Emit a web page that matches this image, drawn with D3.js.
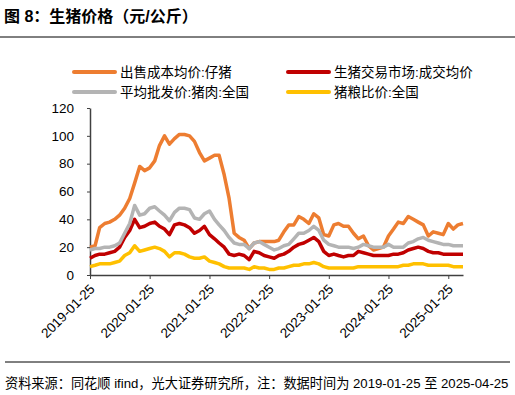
<!DOCTYPE html>
<html>
<head>
<meta charset="utf-8">
<script src="https://cdn.jsdelivr.net/npm/d3@7"></script>
<style>
  body { margin: 0; background: #fff; }
  svg { display: block; font-family: "Liberation Sans", Arial, "Noto Sans CJK SC", sans-serif; }
</style>
</head>
<body>
<div id="chart"></div>
<script>
// monthly readings, 2019-01-25 .. 2025-04-25
const startDate = "2019-01-25";
const pigletCost = [20,21,34,37,38,40,43,48,55,66,78,75,77,82,93,100,94,98,101,101,100,96,88,82,84,86,86,72,55,30,
  27,25,19,23,24,24,24,24,25,31,36,36,42,40,37,44,41,29,28,36,37,35,35,30,26,28,21,18,19,20,
  28,33,38,37,42,40,38,36,28,31,30,29,37,33,36,37];
const hogMarket = [12,14,15,15,16,17,20,27,32,40,34,35,37,38,35,33,29,36,37,36,34,30,32,35,29,26,23,20,15,14,
  15,14,11,17,16,14,13,12,14,15,17,20,22,23,25,27,24,17,14,15,14,13,14,14,17,16,15,14,14,14,
  14,15,15,16,18,19,20,19,17,16,16,15,15,15,15,15];
const porkWholesale = [18,19,19,20,20,21,23,30,37,50,43,44,48,49,46,43,39,45,48,48,47,41,40,44,46,40,36,32,27,23,
  22,22,19,23,24,22,20,18,19,21,22,26,30,30,32,35,32,25,22,21,20,20,20,19,20,22,21,20,20,20,
  22,20,20,20,23,24,26,27,25,24,23,22,22,21,21,21];
const hogGrainRatio = [6,7,8,8,8,9,10,14,16,21,17,18,19,20,19,17,13,16,16,15,13,12,12,13,10,9,8,6,5,5,
  5,5,4,6,5,5,4,4,5,5,6,7,7,8,8,9,8,6,5,5,5,5,5,5,6,6,6,6,6,6,
  6,6,6,7,7,8,8,8,7,7,7,7,7,6,6,6];

const seriesNames = ["出售成本均价:仔猪", "生猪交易市场:成交均价", "平均批发价:猪肉:全国", "猪粮比价:全国"];
const seriesColors = ["#ED7D31", "#C00000", "#B4B4B4", "#FFC000"];
const yTicks = [0, 20, 40, 60, 80, 100, 120];
const xTickLabels = ["2019-01-25","2020-01-25","2021-01-25","2022-01-25","2023-01-25","2024-01-25","2025-01-25"];

const W = 515, H = 395;
const parse = d3.timeParse("%Y-%m-%d");
const t0 = parse(startDate);
const dates = pigletCost.map((_, i) => d3.timeMonth.offset(t0, i));

const svg = d3.select("#chart").append("svg").attr("width", W).attr("height", H);

// title + rules
svg.append("text").attr("x", 4).attr("y", 22)
  .attr("font-size", 16).attr("font-weight", "bold").attr("fill", "#000")
  .text("图 8：生猪价格（元/公斤）");
svg.append("line").attr("x1", 0).attr("x2", W).attr("y1", 37).attr("y2", 37)
  .attr("stroke", "#000").attr("stroke-width", 1);
svg.append("line").attr("x1", 5).attr("x2", 510).attr("y1", 362).attr("y2", 362)
  .attr("stroke", "#000").attr("stroke-width", 1);
svg.append("text").attr("x", 5).attr("y", 388)
  .attr("font-size", 13.2).attr("fill", "#000")
  .text("资料来源：同花顺 ifind，光大证券研究所，注：数据时间为 2019-01-25 至 2025-04-25");

const x = d3.scaleTime().domain([t0, dates[dates.length - 1]]).range([90, 463]);
const y = d3.scaleLinear().domain([0, 120]).range([275, 108]);

// axes
const yAxis = svg.append("g").attr("transform", "translate(90,0)")
  .call(d3.axisLeft(y).tickValues(yTicks).tickSize(3).tickSizeOuter(0));
yAxis.select(".domain").attr("stroke", "#404040").attr("stroke-width", 1.5);
yAxis.selectAll(".tick line").attr("stroke", "#404040");
yAxis.selectAll(".tick text").attr("font-size", 13.5).attr("fill", "#000").attr("x", -16);

const xAxis = svg.append("g").attr("transform", "translate(0,275)")
  .call(d3.axisBottom(x).tickValues(xTickLabels.map(parse)).tickFormat(d3.timeFormat("%Y-%m-%d"))
    .tickSize(4).tickSizeOuter(0));
xAxis.select(".domain").attr("stroke", "#404040").attr("stroke-width", 1.5);
xAxis.selectAll(".tick line").attr("stroke", "#404040");
xAxis.selectAll(".tick text")
  .attr("font-size", 13.5).attr("fill", "#000")
  .attr("text-anchor", "end")
  .attr("dy", 0)
  .attr("transform", "translate(5,15) rotate(-45)")
  .attr("y", 0).attr("x", 0);

// lines
const allSeries = [pigletCost, hogMarket, porkWholesale, hogGrainRatio];
const line = d3.line().x((d, i) => x(dates[i])).y(d => y(d));
allSeries.forEach((vals, k) => {
  svg.append("path").datum(vals)
    .attr("d", line)
    .attr("fill", "none")
    .attr("stroke", seriesColors[k])
    .attr("stroke-width", 3.5)
    .attr("stroke-linejoin", "round");
});

// legend
const legPos = [[74, 72], [288, 72], [74, 92], [288, 92]];
seriesNames.forEach((name, k) => {
  const [lx, ly] = legPos[k];
  svg.append("line").attr("x1", lx).attr("x2", lx + 41).attr("y1", ly).attr("y2", ly)
    .attr("stroke", seriesColors[k]).attr("stroke-width", 4).attr("stroke-linecap", "round");
  svg.append("text").attr("x", lx + 46).attr("y", ly + 5)
    .attr("font-size", 13.5).attr("fill", "#000").text(name);
});
</script>
</body>
</html>
